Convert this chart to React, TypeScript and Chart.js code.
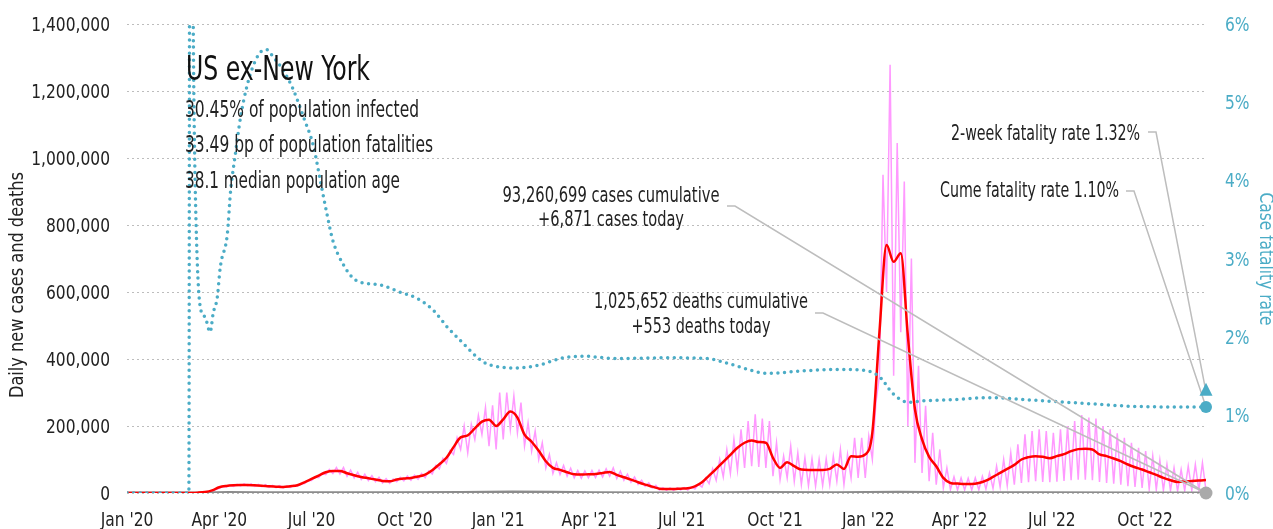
import React, { useEffect, useRef } from 'react';
import { Chart, registerables } from 'chart.js';

Chart.register(...registerables);

const FONT = "'Liberation Sans Narrow', 'Arial Narrow', 'DejaVu Sans Condensed', 'Liberation Sans', sans-serif";

// ---------- data ----------
const tickDays = [0, 91, 182, 274, 366, 456, 547, 639, 731, 821, 912, 1004];
const tickLabels = ["Jan '20", "Apr '20", "Jul '20", "Oct '20", "Jan '21", "Apr '21", "Jul '21", "Oct '21", "Jan '22", "Apr '22", "Jul '22", "Oct '22"];
const lastDay = 1064; // days since 1 Jan 2020
const weekDays = 7;

// 7-day average of new cases (thousands), one value per week from 1 Jan 2020
const casesAvg = [
  0, 0, 0, 0, 0, 0, 0, 0, 0, 0.2,
  1, 3, 8, 17, 21, 23, 24, 24, 23, 22,
  20, 19, 18, 20, 23, 32, 42, 52, 62, 66,
  66, 59, 53, 48, 44, 40, 36, 35, 40, 43,
  45, 49, 55, 68, 86, 105, 137, 166, 172, 193,
  213, 219, 200, 220, 243, 225, 174, 153, 126, 95,
  75, 69, 62, 56, 55, 56, 57, 60, 63, 54,
  47, 40, 32, 25, 19, 13, 12, 12, 13, 14,
  20, 32, 52, 72, 93, 114, 135, 150, 157, 152,
  150, 105, 75, 92, 80, 70, 69, 69, 69, 72,
  85, 72, 110, 108, 115, 180, 480, 740, 690, 716,
  470, 250, 160, 108, 80, 45, 30, 28, 27, 27,
  30, 37, 48, 60, 72, 84, 100, 107, 110, 108,
  104, 110, 116, 125, 131, 132, 130, 115, 110, 103,
  95, 85, 77, 70, 62, 54, 45, 38, 33, 34,
  36, 37, 39,
];

// daily new cases: weekly high (mid-week) and low (weekend) readings, thousands
const casesHigh = [
  0, 0, 0, 0, 0, 0, 0, 0, 0, 0.5,
  1.5, 4, 10, 20, 24, 26, 27, 27, 26, 25,
  23, 22, 21, 23, 27, 37, 48, 59, 70, 76,
  76, 68, 62, 56, 52, 47, 43, 42, 47, 51,
  53, 58, 66, 82, 103, 126, 165, 200, 205, 232,
  255, 262, 300, 300, 290, 270, 210, 185, 150, 115,
  90, 82, 74, 67, 66, 67, 68, 72, 75, 65,
  56, 48, 38, 30, 23, 16, 15, 15, 16, 18,
  26, 45, 72, 100, 130, 160, 190, 215, 235, 222,
  215, 150, 110, 140, 120, 105, 102, 100, 102, 110,
  130, 115, 165, 165, 170, 270, 950, 1278, 1045, 930,
  700, 380, 260, 180, 130, 75, 48, 45, 44, 45,
  50, 60, 80, 100, 120, 145, 175, 185, 190, 185,
  180, 190, 200, 215, 233, 225, 222, 200, 190, 178,
  165, 150, 135, 125, 110, 98, 85, 75, 70, 80,
  85, 90, 60,
];
const casesLow = [
  0, 0, 0, 0, 0, 0, 0, 0, 0, 0,
  0.5, 2, 6, 14, 18, 20, 21, 21, 20, 19,
  17, 16, 15, 17, 20, 28, 37, 46, 55, 58,
  57, 50, 45, 40, 37, 34, 30, 29, 34, 36,
  38, 41, 46, 57, 72, 88, 115, 130, 120, 160,
  175, 140, 130, 160, 190, 180, 140, 125, 100, 75,
  58, 55, 50, 45, 44, 45, 46, 48, 50, 43,
  38, 32, 26, 20, 15, 9, 8, 8, 9, 9,
  12, 18, 28, 38, 48, 58, 68, 75, 80, 78,
  75, 50, 40, 45, 35, 25, 22, 20, 22, 25,
  35, 25, 45, 45, 45, 100, 350, 600, 350, 480,
  200, 90, 60, 35, 25, 15, 10, 9, 9, 9,
  10, 12, 14, 18, 22, 25, 30, 32, 35, 33,
  32, 34, 36, 38, 40, 40, 38, 33, 30, 28,
  25, 20, 18, 15, 12, 10, 8, 7, 6, 7,
  8, 8, 7,
];

// daily deaths 7-day average (thousands)
const deathDays = [0, 75, 100, 130, 180, 215, 260, 330, 380, 420, 460, 550, 620, 700, 760, 820, 900, 1000, 1064];
const deathValues = [0, 0.2, 1.2, 1.0, 0.6, 1.0, 0.7, 1.8, 3.0, 2.0, 0.8, 0.2, 1.8, 1.0, 2.3, 0.6, 0.4, 0.35, 0.3];

// cumulative case fatality rate (%)
const cfrDays = [0, 61, 62, 64, 66, 68, 72, 77, 82, 85, 89, 92, 99, 102, 107, 112, 118, 124, 131, 138, 144, 154, 164, 174, 184, 190, 197, 203, 213, 226, 250, 269, 286, 302, 316, 328, 351, 368, 385, 407, 430, 450, 483, 532, 572, 592, 615, 631, 664, 700, 726, 741, 746, 752, 760, 771, 785, 808, 851, 890, 940, 989, 1039, 1064];
const cfrValues = [0, 0, 9, 8, 5.0, 3.5, 2.4, 2.25, 2.06, 2.3, 2.5, 2.89, 3.32, 3.84, 4.35, 4.81, 5.19, 5.45, 5.63, 5.67, 5.58, 5.41, 5.16, 4.81, 4.43, 4.04, 3.58, 3.23, 2.93, 2.72, 2.66, 2.57, 2.49, 2.34, 2.12, 1.96, 1.68, 1.61, 1.6, 1.64, 1.73, 1.75, 1.72, 1.73, 1.72, 1.66, 1.57, 1.53, 1.56, 1.58, 1.57, 1.5, 1.43, 1.32, 1.22, 1.16, 1.18, 1.19, 1.22, 1.19, 1.15, 1.11, 1.1, 1.1];

const cumeFatality = 1.10;
const twoWeekFatality = 1.32;

const titleText = 'US ex-New York';
const statLines = ['30.45% of population infected', '33.49 bp of population fatalities', '38.1 median population age'];
const casesNote = ['93,260,699 cases cumulative', '+6,871 cases today'];
const deathsNote = ['1,025,652 deaths cumulative', '+553 deaths today'];
const twoWeekNote = '2-week fatality rate 1.32%';
const cumeNote = 'Cume fatality rate 1.10%';
const leftTitle = 'Daily new cases and deaths';
const rightTitle = 'Case fatality rate';

const BLUE = '#4bacc6';
const LEADER = '#bdbdbd';
const SQUEEZE = 0.86;

function fitText(ctx: CanvasRenderingContext2D, s: string, x: number, y: number, size: number, align: string, color: string, width: number) {
  ctx.save();
  ctx.font = `${size}px ${FONT}`;
  ctx.fillStyle = color;
  ctx.textBaseline = 'alphabetic';
  ctx.textAlign = 'left';
  const w = ctx.measureText(s).width;
  const sx = width / w;
  const left = align === 'left' ? x : align === 'right' ? x - width : x - width / 2;
  ctx.translate(left, y);
  ctx.scale(sx, 1);
  ctx.fillText(s, 0, 0);
  ctx.restore();
}

function sqText(ctx: CanvasRenderingContext2D, s: string, x: number, y: number, size: number, align: string, color: string) {
  ctx.save();
  ctx.font = `${size}px ${FONT}`;
  ctx.fillStyle = color;
  ctx.textBaseline = 'alphabetic';
  ctx.textAlign = 'left';
  const width = ctx.measureText(s).width * SQUEEZE;
  const left = align === 'left' ? x : align === 'right' ? x - width : x - width / 2;
  ctx.translate(left, y);
  ctx.scale(SQUEEZE, 1);
  ctx.fillText(s, 0, 0);
  ctx.restore();
}

function rotText(ctx: CanvasRenderingContext2D, s: string, cx: number, cy: number, size: number, angle: number, color: string, width: number) {
  ctx.save();
  ctx.font = `${size}px ${FONT}`;
  ctx.fillStyle = color;
  ctx.textBaseline = 'middle';
  ctx.textAlign = 'center';
  const w = ctx.measureText(s).width;
  ctx.translate(cx, cy);
  ctx.rotate(angle);
  ctx.scale(width / w, 1);
  ctx.fillText(s, 0, 0);
  ctx.restore();
}

const overlay = {
  id: 'overlay',
  afterDatasetsDraw(chart: any) {
    const ctx: CanvasRenderingContext2D = chart.ctx;
    const xs = chart.scales.x;
    const yl = chart.scales.y;
    const yr = chart.scales.y1;
    const ex = xs.getPixelForValue(lastDay);
    const y0 = yl.getPixelForValue(0);
    const yCume = yr.getPixelForValue(cumeFatality);
    const y2w = yr.getPixelForValue(twoWeekFatality);

    // axis tick labels
    tickDays.forEach((d, i) => sqText(ctx, tickLabels[i], xs.getPixelForValue(d), 526, 20, 'center', '#222'));
    yl.ticks.forEach((t: any) => sqText(ctx, Number(t.value).toLocaleString('en-US'), 110, yl.getPixelForValue(t.value) + 7, 20, 'right', '#222'));
    yr.ticks.forEach((t: any) => sqText(ctx, `${t.value}%`, 1225, yr.getPixelForValue(t.value) + 7, 20, 'left', BLUE));

    // leader lines
    ctx.save();
    ctx.strokeStyle = LEADER;
    ctx.lineWidth = 1.5;
    const leader = (pts: number[][]) => {
      ctx.beginPath();
      ctx.moveTo(pts[0][0], pts[0][1]);
      for (let i = 1; i < pts.length; i++) ctx.lineTo(pts[i][0], pts[i][1]);
      ctx.stroke();
    };
    leader([[727, 206], [735, 206], [ex, y0]]);
    leader([[815, 313], [823, 313], [ex, y0]]);
    leader([[1148, 132], [1156, 132], [ex, y2w + 2]]);
    leader([[1126, 191], [1134, 191], [ex, yCume]]);
    ctx.restore();

    // end markers
    ctx.save();
    ctx.fillStyle = '#aaaaaa';
    ctx.beginPath();
    ctx.arc(ex, y0, 6.5, 0, Math.PI * 2);
    ctx.fill();
    ctx.fillStyle = BLUE;
    ctx.beginPath();
    ctx.arc(ex, yCume, 6, 0, Math.PI * 2);
    ctx.fill();
    ctx.beginPath();
    ctx.moveTo(ex, y2w - 7);
    ctx.lineTo(ex + 6.5, y2w + 6);
    ctx.lineTo(ex - 6.5, y2w + 6);
    ctx.closePath();
    ctx.fill();
    ctx.restore();

    // text
    fitText(ctx, titleText, 186, 80, 34, 'left', '#111', 184);
    fitText(ctx, statLines[0], 185, 117, 23, 'left', '#222', 234);
    fitText(ctx, statLines[1], 185, 152, 23, 'left', '#222', 248);
    fitText(ctx, statLines[2], 185, 188, 23, 'left', '#222', 215);
    fitText(ctx, casesNote[0], 611, 202, 21, 'center', '#222', 217);
    fitText(ctx, casesNote[1], 611, 226, 21, 'center', '#222', 146);
    fitText(ctx, deathsNote[0], 701, 308, 21, 'center', '#222', 214);
    fitText(ctx, deathsNote[1], 701, 333, 21, 'center', '#222', 139);
    fitText(ctx, twoWeekNote, 1140, 140, 21, 'right', '#222', 189);
    fitText(ctx, cumeNote, 1119, 197, 21, 'right', '#222', 179);
    rotText(ctx, leftTitle, 18, 285, 20, -Math.PI / 2, '#222', 226);
    rotText(ctx, rightTitle, 1265, 259, 20, Math.PI / 2, BLUE, 133);
  },
};

export default function App() {
  const ref = useRef<HTMLCanvasElement>(null);
  useEffect(() => {
    if (!ref.current) return;
    Chart.defaults.font.family = FONT;
    Chart.defaults.color = '#222';

    const pink: { x: number; y: number }[] = [];
    casesLow.forEach((v, i) => {
      pink.push({ x: i * weekDays, y: v * 1000 });
      if (i < casesLow.length - 1) pink.push({ x: i * weekDays + weekDays / 2, y: casesHigh[i] * 1000 });
    });
    const avg = casesAvg.map((v, i) => ({ x: i * weekDays, y: v * 1000 }));
    const deaths = deathDays.map((d, i) => ({ x: d, y: deathValues[i] * 1000 }));
    const cfr = cfrDays.map((d, i) => ({ x: d, y: cfrValues[i] }));

    const chart = new Chart(ref.current, {
      type: 'line',
      data: {
        datasets: [
          {
            label: 'Case fatality rate',
            data: cfr,
            yAxisID: 'y1',
            borderColor: BLUE,
            borderWidth: 3.5,
            borderDash: [0, 6.6],
            borderCapStyle: 'round',
            cubicInterpolationMode: 'monotone',
            pointRadius: 0,
            order: 0,
          },
          {
            label: '7-day average cases',
            data: avg,
            yAxisID: 'y',
            borderColor: '#ff0000',
            borderWidth: 2.5,
            cubicInterpolationMode: 'monotone',
            pointRadius: 0,
            order: 1,
          },
          {
            label: 'Deaths',
            data: deaths,
            yAxisID: 'y',
            borderColor: '#8c8c8c',
            borderWidth: 3,
            pointRadius: 0,
            order: 2,
          },
          {
            label: 'Daily cases',
            data: pink,
            yAxisID: 'y',
            borderColor: '#ff99ff',
            borderWidth: 1.5,
            pointRadius: 0,
            order: 3,
          },
        ],
      } as any,
      options: {
        animation: false,
        responsive: true,
        maintainAspectRatio: false,
        parsing: false as any,
        layout: { padding: { top: 24, left: 0, right: 0, bottom: 0 } },
        plugins: { legend: { display: false }, tooltip: { enabled: false }, title: { display: false } },
        scales: {
          x: {
            type: 'linear',
            min: 0,
            max: 1065,
            grid: { display: false, drawTicks: false },
            border: { display: false },
            afterBuildTicks: (scale: any) => {
              scale.ticks = tickDays.map((v) => ({ value: v }));
            },
            afterFit: (scale: any) => {
              scale.height = 36;
            },
            ticks: { display: false, autoSkip: false, maxRotation: 0 },
          },
          y: {
            position: 'left',
            min: 0,
            max: 1400000,
            grid: { color: '#bdbdbd', lineWidth: 1, drawTicks: false },
            border: { display: false, dash: [2, 3] },
            afterFit: (scale: any) => {
              scale.width = 127;
            },
            ticks: { display: false, stepSize: 200000 },
          },
          y1: {
            position: 'right',
            min: 0,
            max: 6,
            grid: { display: false, drawTicks: false },
            border: { display: false },
            afterFit: (scale: any) => {
              scale.width = 66;
            },
            ticks: { display: false, stepSize: 1 },
          },
        },
      } as any,
      plugins: [overlay],
    });
    return () => chart.destroy();
  }, []);

  return (
    <div style={{ position: 'fixed', left: 0, top: 0, width: 1273, height: 529 }}>
      <canvas ref={ref} />
    </div>
  );
}
